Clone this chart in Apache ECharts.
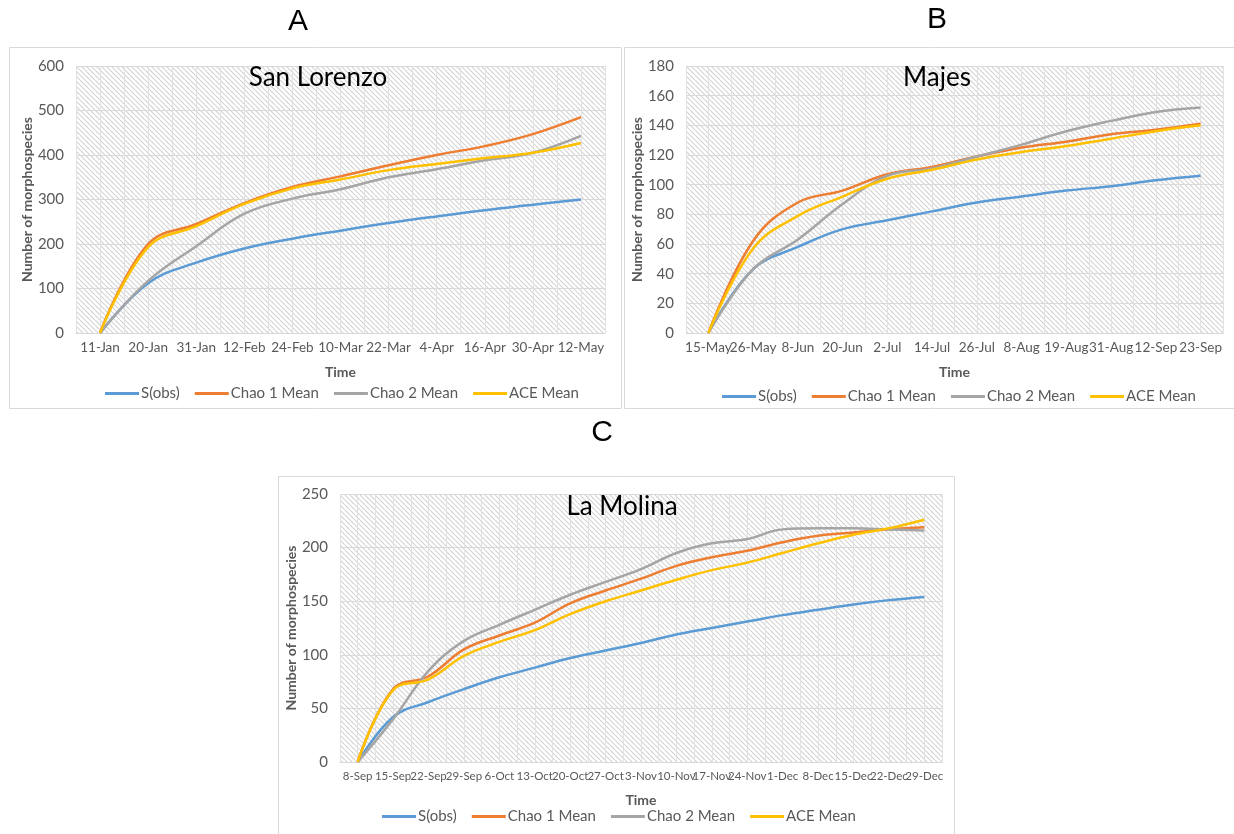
<!DOCTYPE html>
<html><head><meta charset="utf-8">
<script src="https://cdn.jsdelivr.net/npm/echarts@6/dist/echarts.min.js"></script>
<style>html,body{margin:0;padding:0;background:#fff}#c{width:1234px;height:834px}</style>
</head><body><div id="c"></div><script>
// ---------- DATA ----------
const seriesNames = ['S(obs)', 'Chao 1 Mean', 'Chao 2 Mean', 'ACE Mean'];

const datesA = ['11-Jan','20-Jan','31-Jan','12-Feb','24-Feb','10-Mar','22-Mar','4-Apr','16-Apr','30-Apr','12-May'];
const sobsA  = [0, 112, 158, 190, 212, 230, 247, 262, 276, 288, 300];
const chao1A = [0, 200, 245, 292, 328, 352, 377, 400, 420, 447, 485];
const chao2A = [0, 117, 195, 268, 302, 323, 350, 368, 388, 405, 443];
const aceA   = [0, 193, 240, 290, 325, 345, 366, 380, 393, 405, 427];

const datesB = ['15-May','26-May','8-Jun','20-Jun','2-Jul','14-Jul','26-Jul','8-Aug','19-Aug','31-Aug','12-Sep','23-Sep'];
const sobsB  = [0, 43, 58, 70, 76, 82, 88, 92, 96, 99, 103, 106];
const chao1B = [0, 62, 88, 96, 107, 112, 119, 125, 129, 134, 137, 141];
const chao2B = [0, 43, 63, 87, 106, 111, 119, 127, 136, 143, 149, 152];
const aceB   = [0, 57, 79, 92, 104, 110, 117, 122, 126, 131, 136, 140];

const datesC = ['8-Sep','15-Sep','22-Sep','29-Sep','6-Oct','13-Oct','20-Oct','27-Oct','3-Nov','10-Nov','17-Nov','24-Nov','1-Dec','8-Dec','15-Dec','22-Dec','29-Dec'];
const sobsC  = [0, 42, 56, 68, 79, 88, 97, 104, 111, 119, 125, 131, 137, 142, 147, 151, 154];
const chao1C = [0, 68, 80, 105, 118, 130, 148, 160, 171, 183, 191, 197, 205, 211, 214, 217, 219];
const chao2C = [0, 40, 85, 113, 128, 142, 156, 168, 180, 195, 204, 208, 217, 218, 218, 217, 216];
const aceC   = [0, 67, 77, 99, 112, 123, 138, 150, 160, 170, 179, 186, 195, 204, 212, 218, 226];

const yTicksA = {min: 0, max: 600, interval: 100};
const yTicksB = {min: 0, max: 180, interval: 20};
const yTicksC = {min: 0, max: 250, interval: 50};

const panelTitles = ['San Lorenzo', 'Majes', 'La Molina'];
const panelLetters = ['A', 'B', 'C'];

// ---------- STYLE ----------
const colors = ['#5B9BD5', '#ED7D31', '#A5A5A5', '#FFC000'];
const FONT = 'Lato, "Open Sans", sans-serif';
const TXT = '#595959';

function hatch() {
  const s = 5;
  const c = document.createElement('canvas'); c.width = s; c.height = s;
  const g = c.getContext('2d');
  g.fillStyle = '#ffffff'; g.fillRect(0, 0, s, s);
  g.strokeStyle = '#d2d2d2'; g.lineWidth = 1.1;
  g.beginPath();
  for (const k of [-s, 0, s]) { g.moveTo(k, 0); g.lineTo(k + s, s); }
  g.stroke();
  return c;
}
const pattern = {image: hatch(), repeat: 'repeat'};

const panels = [
  {grid: {left: 76, top: 66, width: 529, height: 267}, cats: datesA, data: [sobsA, chao1A, chao2A, aceA], y: yTicksA, xFont: 13.5, nameGap: 32, legendLeft: 100, legendTop: 381, title: [318, 78]},
  {grid: {left: 686, top: 66, width: 537, height: 267}, cats: datesB, data: [sobsB, chao1B, chao2B, aceB], y: yTicksB, xFont: 13.5, nameGap: 32, legendLeft: 717, legendTop: 384, title: [937, 78]},
  {grid: {left: 340, top: 494, width: 602, height: 268}, cats: datesC, data: [sobsC, chao1C, chao2C, aceC], y: yTicksC, xFont: 11.5, nameGap: 31, legendLeft: 377, legendTop: 804, title: [622, 507]}
];

const grids = [], xAxes = [], yAxes = [], series = [], legends = [];
panels.forEach((p, i) => {
  grids.push(Object.assign({show: true, backgroundColor: pattern, borderWidth: 0}, p.grid));
  // main category axis
  xAxes.push({
    gridIndex: i, type: 'category', data: p.cats, boundaryGap: true,
    name: 'Time', nameLocation: 'middle', nameGap: p.nameGap,
    nameTextStyle: {fontFamily: FONT, fontWeight: 'bold', fontSize: 14, color: TXT},
    axisLine: {show: true, lineStyle: {color: '#D9D9D9', width: 1}},
    axisTick: {show: false},
    axisLabel: {interval: 0, fontFamily: FONT, fontSize: p.xFont, color: TXT, margin: 8},
    splitLine: {show: false}
  });
  // hidden helper axis: half-category vertical gridlines
  const half = [];
  for (let k = 0; k < p.cats.length * 2; k++) half.push(String(k));
  xAxes.push({
    gridIndex: i, type: 'category', data: half, boundaryGap: true, position: 'top',
    axisLine: {show: false}, axisTick: {show: false}, axisLabel: {show: false},
    splitLine: {show: true, interval: 0, lineStyle: {color: '#E2E2E2', width: 1}}
  });
  yAxes.push({
    gridIndex: i, type: 'value', min: p.y.min, max: p.y.max, interval: p.y.interval,
    name: 'Number of morphospecies', nameLocation: 'middle', nameRotate: 90, nameGap: 41,
    nameTextStyle: {fontFamily: FONT, fontWeight: 'bold', fontSize: 14, color: TXT},
    axisLine: {show: false}, axisTick: {show: false},
    axisLabel: {fontFamily: FONT, fontSize: 15, color: TXT, margin: 12},
    splitLine: {show: true, lineStyle: {color: '#D9D9D9', width: 1}}
  });
  p.data.forEach((arr, j) => {
    series.push({
      type: 'line', name: seriesNames[j], xAxisIndex: i * 2, yAxisIndex: i,
      data: arr, smooth: 0.4, symbol: 'none',
      lineStyle: {color: colors[j], width: 2.5}, itemStyle: {color: colors[j]},
      z: 3 + j
    });
  });
  legends.push({
    data: seriesNames, left: p.legendLeft, top: p.legendTop, orient: 'horizontal',
    icon: 'rect', itemWidth: 34, itemHeight: 3, itemGap: 15,
    selectedMode: false,
    textStyle: {fontFamily: FONT, fontSize: 15, color: TXT, padding: [0, 0, 0, -3]}
  });
});

const graphics = [
  {type: 'rect', shape: {x: 9.5, y: 47.5, width: 612, height: 361}, style: {fill: 'none', stroke: '#D9D9D9', lineWidth: 1}, z: 0},
  {type: 'rect', shape: {x: 624.5, y: 47.5, width: 620, height: 361}, style: {fill: 'none', stroke: '#D9D9D9', lineWidth: 1}, z: 0},
  {type: 'rect', shape: {x: 278.5, y: 476.5, width: 676, height: 370}, style: {fill: 'none', stroke: '#D9D9D9', lineWidth: 1}, z: 0},
  {type: 'text', x: 298, y: 22, style: {text: panelLetters[0], font: '30px "Liberation Sans", Arial, sans-serif', fill: '#000', textAlign: 'center', textVerticalAlign: 'middle'}},
  {type: 'text', x: 937, y: 20, style: {text: panelLetters[1], font: '30px "Liberation Sans", Arial, sans-serif', fill: '#000', textAlign: 'center', textVerticalAlign: 'middle'}},
  {type: 'text', x: 602, y: 433, style: {text: panelLetters[2], font: '30px "Liberation Sans", Arial, sans-serif', fill: '#000', textAlign: 'center', textVerticalAlign: 'middle'}}
];
panels.forEach((p, i) => {
  graphics.push({type: 'text', x: p.title[0], y: p.title[1], z: 10,
    style: {text: panelTitles[i], font: '26px ' + FONT, fill: '#000', textAlign: 'center', textVerticalAlign: 'middle'}});
});

const chart = echarts.init(document.getElementById('c'), null, {renderer: 'canvas'});
chart.setOption({
  animation: false,
  backgroundColor: '#ffffff',
  grid: grids, xAxis: xAxes, yAxis: yAxes, series: series, legend: legends,
  graphic: graphics
});
</script></body></html>
